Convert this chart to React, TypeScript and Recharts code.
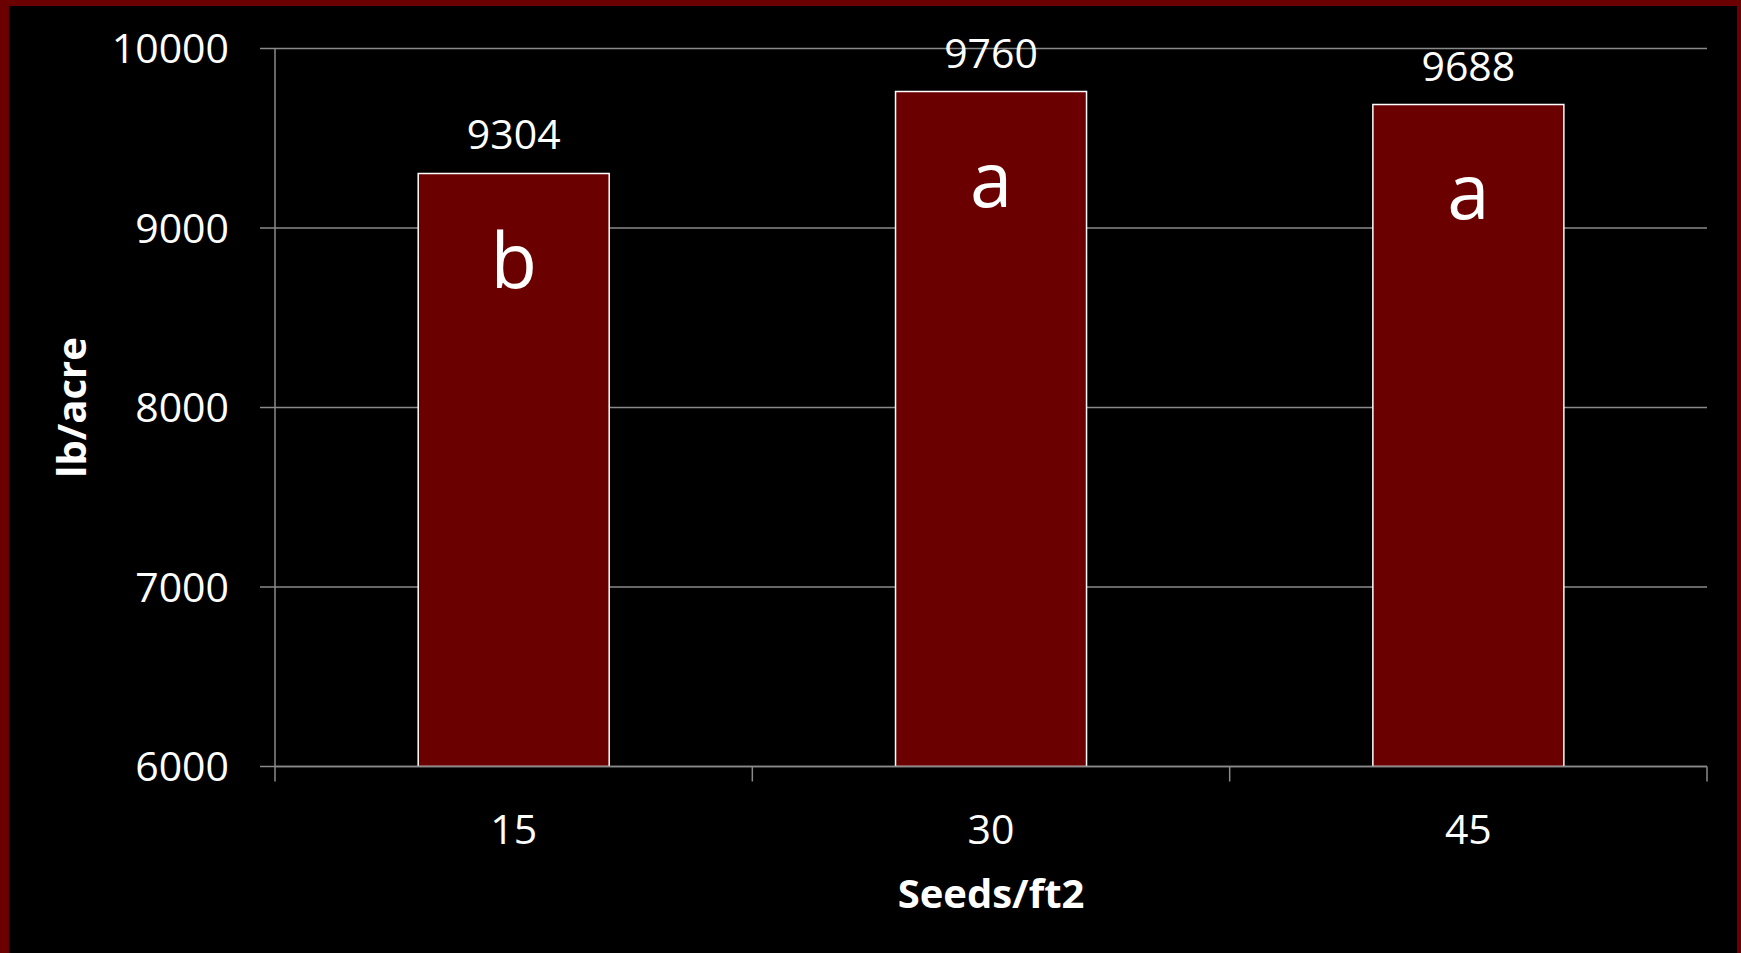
import { BarChart, Bar, XAxis, YAxis, CartesianGrid, LabelList, Label } from "recharts";

const seedRates = ["15", "30", "45"];
const yields = [9304, 9760, 9688];
const letters = ["b", "a", "a"];
const yTicks = [6000, 7000, 8000, 9000, 10000];

const data = seedRates.map((rate, i) => ({
  rate,
  yield: yields[i],
  letter: letters[i],
}));

const W = 1741;
const H = 953;
const MARGIN = { top: 48.5, right: 34, bottom: 26.5, left: 20 };
const Y_AXIS_W = 255;
const X_AXIS_H = 160;
const X_TICK_MARGIN = 48;
const GRID = "#8a8a8a";
const FONT = "'Open Sans', 'DejaVu Sans', sans-serif";

// category ticks: marks sit on the band edges, labels in the middle
const CategoryTick = (props: any) => {
  const { x, y, payload, index, visibleTicksCount } = props;
  const plotW = W - MARGIN.left - Y_AXIS_W - MARGIN.right;
  const half = payload.offset || plotW / (2 * seedRates.length);
  const axisY = y - X_TICK_MARGIN;
  return (
    <g>
      <line x1={x - half} x2={x - half} y1={axisY} y2={axisY + 15} stroke={GRID} strokeWidth={1.5} />
      {index === visibleTicksCount - 1 && (
        <line x1={x + half} x2={x + half} y1={axisY} y2={axisY + 15} stroke={GRID} strokeWidth={1.5} />
      )}
      <text x={x} y={y} dy="0.71em" textAnchor="middle" fill="#fff" fontSize={41} fontFamily={FONT}>
        {payload.value}
      </text>
    </g>
  );
};

export default function App() {
  return (
    <div style={{ position: "absolute", left: 0, top: 0, width: W, height: H, background: "#000" }}>
      <BarChart width={W} height={H} data={data} margin={MARGIN} barCategoryGap="30%">
        <CartesianGrid vertical={false} stroke={GRID} strokeWidth={1.5} />
        <XAxis
          dataKey="rate"
          height={X_AXIS_H}
          axisLine={{ stroke: GRID, strokeWidth: 1.5 }}
          tickLine={false}
          tickSize={0}
          tickMargin={X_TICK_MARGIN}
          tick={<CategoryTick />}
          interval={0}
        >
          <Label
            value="Seeds/ft2"
            position="insideBottom"
            offset={18.5}
            fill="#fff"
            fontSize={40}
            fontWeight="bold"
            fontFamily={FONT}
          />
        </XAxis>
        <YAxis
          width={Y_AXIS_W}
          domain={[6000, 10000]}
          ticks={yTicks}
          allowDataOverflow
          axisLine={{ stroke: GRID, strokeWidth: 1.5 }}
          tickLine={{ stroke: GRID, strokeWidth: 1.5 }}
          tickSize={15}
          tickMargin={31}
          tick={{ fill: "#fff", fontSize: 41, fontFamily: FONT }}
        >
          <Label
            value="lb/acre"
            angle={-90}
            position="insideLeft"
            offset={52}
            fill="#fff"
            fontSize={40}
            fontWeight="bold"
            fontFamily={FONT}
            style={{ textAnchor: "middle" }}
          />
        </YAxis>
        <Bar dataKey="yield" fill="#6B0000" stroke="#fff" strokeWidth={1.5} isAnimationActive={false}>
          <LabelList dataKey="yield" position="top" offset={24} fill="#fff" fontSize={41} fontFamily={FONT} />
          <LabelList dataKey="letter" position="insideTop" offset={61} fill="#fff" fontSize={76} fontFamily={FONT} />
        </Bar>
      </BarChart>
      {/* slide frame */}
      <div
        style={{
          position: "absolute",
          inset: 0,
          boxSizing: "border-box",
          borderTop: "6px solid #6B0000",
          borderLeft: "9px solid #6B0000",
          borderRight: "4px solid #6B0000",
          pointerEvents: "none",
        }}
      />
    </div>
  );
}
